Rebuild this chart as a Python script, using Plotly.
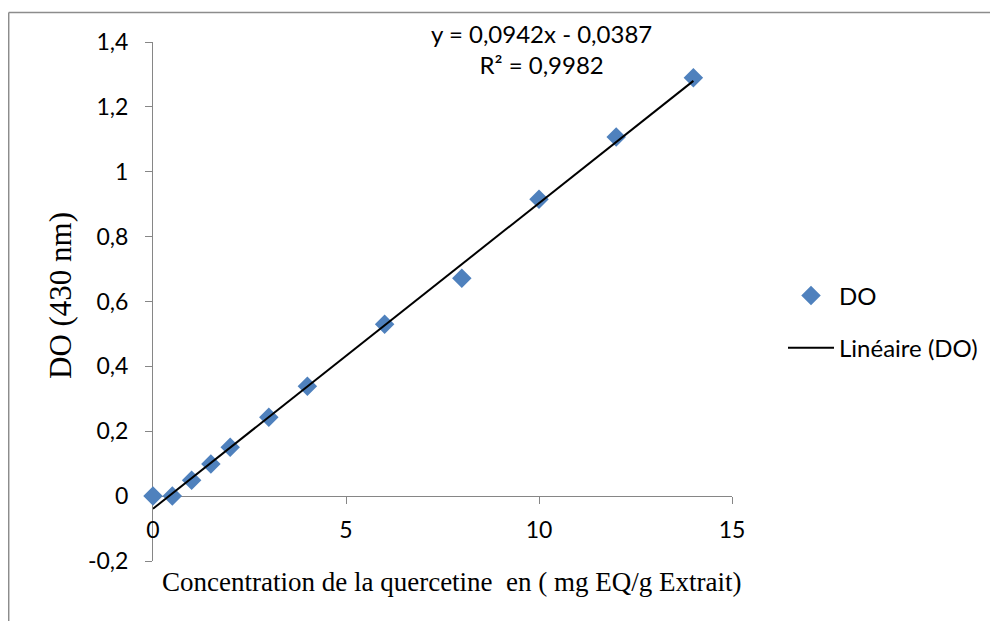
import plotly.graph_objects as go

# ---- data ----
concentration = [0, 0.5, 1, 1.5, 2, 3, 4, 6, 8, 10, 12, 14]
absorbance = [0.0, 0.0, 0.049, 0.099, 0.151, 0.243, 0.339, 0.530, 0.672, 0.915, 1.107, 1.290]
slope = 0.0942
intercept = -0.0387
r_squared = "0,9982"
equation_text = "y = 0,0942x - 0,0387"
x_tick_values = [0, 5, 10, 15]
x_tick_labels = ["0", "5", "10", "15"]
y_tick_values = [-0.2, 0, 0.2, 0.4, 0.6, 0.8, 1.0, 1.2, 1.4]
y_tick_labels = ["-0,2", "0", "0,2", "0,4", "0,6", "0,8", "1", "1,2", "1,4"]
trend_x = [min(concentration), max(concentration)]
trend_y = [slope * v + intercept for v in trend_x]

# page has an 8px body margin; build the figure so the plot lands at the right spot
OFF = 8
W, H = 998 - OFF, 621 - OFF
ML, MT = 153 - OFF, 42 - OFF
PW, PH = 579, 519
MR, MB = W - ML - PW, H - MT - PH


def px_x(p):
    return (p - OFF - ML) / PW


def px_y(p):
    return (OFF + MT + PH - p) / PH


tick_font = dict(family="Lato", size=23, color="black")
axis_grey = "#868686"

fig = go.Figure()
fig.add_trace(go.Scatter(
    x=concentration, y=absorbance, mode="markers", name="DO",
    marker=dict(symbol="diamond", size=15, color="#4F81BD"),
    cliponaxis=False, legendgroup="a",
))
fig.add_trace(go.Scatter(
    x=trend_x, y=trend_y, mode="lines", name="Linéaire (DO)",
    line=dict(color="black", width=2), legendgroup="b",
))

fig.update_layout(
    width=W, height=H,
    margin=dict(l=ML, r=MR, t=MT, b=MB, autoexpand=False),
    paper_bgcolor="white", plot_bgcolor="white",
    separators=",.",
    showlegend=True,
    legend=dict(
        x=px_x(783), y=px_y(322), xanchor="left", yanchor="middle",
        font=dict(family="Lato", size=24, color="black"),
        tracegroupgap=18, itemwidth=46, bgcolor="rgba(0,0,0,0)",
    ),
    xaxis=dict(
        range=[0, 15], anchor="free", position=0.125,
        tickvals=x_tick_values, ticktext=x_tick_labels,
        ticks="outside", ticklen=7, tickcolor=axis_grey, tickwidth=1,
        showline=True, linecolor=axis_grey, linewidth=1,
        showgrid=False, zeroline=False, tickfont=tick_font,
        ticklabelstandoff=6, layer="below traces",
    ),
    yaxis=dict(
        range=[-0.2, 1.4],
        tickvals=y_tick_values, ticktext=y_tick_labels,
        ticks="outside", ticklen=7, tickcolor=axis_grey, tickwidth=1,
        showline=True, linecolor=axis_grey, linewidth=1,
        showgrid=False, zeroline=False, tickfont=tick_font,
        ticklabelstandoff=12, layer="below traces",
    ),
    annotations=[
        dict(text=equation_text + "<br>R² = " + r_squared,
             x=px_x(541), y=px_y(49), xref="paper", yref="paper",
             xanchor="center", yanchor="middle",
             showarrow=False, align="center",
             font=dict(family="Lato", size=24, color="black")),
        dict(text="Concentration de la quercetine  en ( mg EQ/g Extrait)",
             x=px_x(452), y=px_y(582), xref="paper", yref="paper",
             xanchor="center", yanchor="middle",
             showarrow=False, font=dict(family="Liberation Serif", size=27, color="black")),
        dict(text="DO (430 nm)", textangle=-90,
             x=px_x(60), y=px_y(296), xref="paper", yref="paper",
             xanchor="center", yanchor="middle",
             showarrow=False, font=dict(family="Liberation Serif", size=31, color="black")),
    ],
    shapes=[
        dict(type="line", xref="paper", yref="paper",
             x0=px_x(8.7), x1=px_x(1100), y0=px_y(12.5), y1=px_y(12.5),
             line=dict(color="#8c8c8c", width=1.5)),
        dict(type="line", xref="paper", yref="paper",
             x0=px_x(8.7), x1=px_x(8.7), y0=px_y(12.5), y1=px_y(700),
             line=dict(color="#8c8c8c", width=1.5)),
    ],
)

fig.write_html("out.html")
